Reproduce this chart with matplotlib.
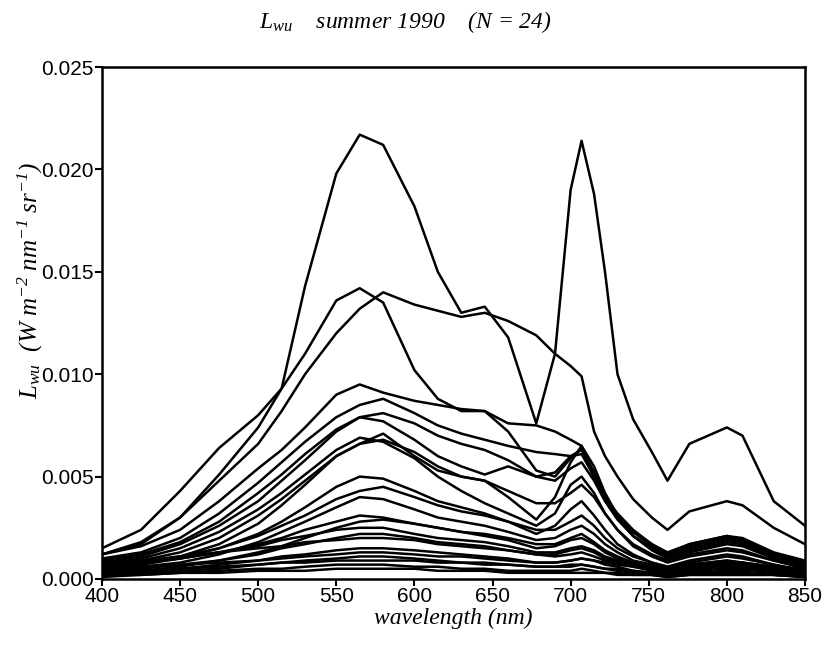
import matplotlib
matplotlib.use('Agg')
import matplotlib.pyplot as plt

plt.rcParams['mathtext.fontset'] = 'custom'
plt.rcParams['mathtext.it'] = 'Liberation Serif:italic'
plt.rcParams['mathtext.rm'] = 'Liberation Serif:italic'

# wavelength grid (nm) shared by all spectra
wl = [400, 425, 450, 475, 500, 515, 530, 550, 565, 580, 600, 615, 630, 645, 660,
      678, 690, 700, 707, 715, 722, 730, 740, 752, 762, 776, 800, 810, 830, 850]

# upwelling radiance, one list per station
s01 = [0.0012, 0.0018, 0.0030, 0.0051, 0.0074, 0.0093, 0.0143, 0.0198, 0.0217, 0.0212, 0.0182, 0.0150, 0.0130, 0.0133, 0.0118,
       0.0076, 0.0110, 0.0190, 0.0214, 0.0188, 0.0150, 0.0100, 0.0078, 0.0062, 0.0048, 0.0066, 0.0074, 0.0070, 0.0038, 0.0026]
s02 = [0.0015, 0.0024, 0.0043, 0.0064, 0.0080, 0.0093, 0.0110, 0.0136, 0.0142, 0.0135, 0.0102, 0.0088, 0.0082, 0.0082, 0.0072,
       0.0053, 0.0050, 0.0059, 0.0064, 0.0052, 0.0040, 0.0031, 0.0023, 0.0017, 0.0013, 0.0017, 0.0021, 0.0020, 0.0013, 0.0009]
s03 = [0.0012, 0.0017, 0.0030, 0.0048, 0.0066, 0.0082, 0.0100, 0.0120, 0.0132, 0.0140, 0.0134, 0.0131, 0.0128, 0.0130, 0.0126,
       0.0119, 0.0110, 0.0104, 0.0099, 0.0072, 0.0060, 0.0050, 0.0039, 0.0030, 0.0024, 0.0033, 0.0038, 0.0036, 0.0025, 0.0017]
s04 = [0.0012, 0.0016, 0.0024, 0.0038, 0.0054, 0.0063, 0.0074, 0.0090, 0.0095, 0.0091, 0.0087, 0.0085, 0.0083, 0.0082, 0.0076,
       0.0075, 0.0072, 0.0068, 0.0065, 0.0049, 0.0040, 0.0032, 0.0024, 0.0017, 0.0012, 0.0017, 0.0021, 0.0019, 0.0012, 0.0008]
s05 = [0.0010, 0.0013, 0.0020, 0.0032, 0.0047, 0.0057, 0.0067, 0.0079, 0.0085, 0.0088, 0.0081, 0.0075, 0.0071, 0.0068, 0.0065,
       0.0062, 0.0061, 0.0060, 0.0061, 0.0050, 0.0040, 0.0031, 0.0023, 0.0016, 0.0012, 0.0016, 0.0020, 0.0019, 0.0012, 0.0008]
s06 = [0.0009, 0.0012, 0.0018, 0.0028, 0.0042, 0.0051, 0.0061, 0.0073, 0.0079, 0.0081, 0.0076, 0.0070, 0.0066, 0.0063, 0.0058,
       0.0050, 0.0048, 0.0054, 0.0057, 0.0048, 0.0038, 0.0029, 0.0021, 0.0015, 0.0011, 0.0015, 0.0019, 0.0018, 0.0011, 0.0007]
s07 = [0.0008, 0.0011, 0.0017, 0.0026, 0.0038, 0.0048, 0.0058, 0.0072, 0.0079, 0.0077, 0.0068, 0.0060, 0.0055, 0.0051, 0.0055,
       0.0050, 0.0052, 0.0060, 0.0063, 0.0052, 0.0040, 0.0030, 0.0021, 0.0015, 0.0011, 0.0014, 0.0018, 0.0017, 0.0011, 0.0007]
s08 = [0.0005, 0.0007, 0.0011, 0.0017, 0.0027, 0.0036, 0.0046, 0.0060, 0.0066, 0.0071, 0.0060, 0.0053, 0.0050, 0.0048, 0.0040,
       0.0029, 0.0040, 0.0057, 0.0065, 0.0055, 0.0042, 0.0031, 0.0021, 0.0014, 0.0010, 0.0013, 0.0017, 0.0016, 0.0010, 0.0006]
s09 = [0.0007, 0.0010, 0.0015, 0.0023, 0.0034, 0.0042, 0.0051, 0.0063, 0.0069, 0.0067, 0.0059, 0.0050, 0.0043, 0.0037, 0.0032,
       0.0026, 0.0032, 0.0046, 0.0050, 0.0042, 0.0032, 0.0024, 0.0016, 0.0011, 0.0008, 0.0011, 0.0014, 0.0013, 0.0009, 0.0005]
s10 = [0.0006, 0.0009, 0.0013, 0.0020, 0.0031, 0.0039, 0.0048, 0.0060, 0.0066, 0.0068, 0.0062, 0.0055, 0.0050, 0.0048, 0.0043,
       0.0037, 0.0037, 0.0042, 0.0046, 0.0040, 0.0032, 0.0024, 0.0017, 0.0012, 0.0009, 0.0012, 0.0015, 0.0014, 0.0009, 0.0006]
s11 = [0.0005, 0.0007, 0.0010, 0.0015, 0.0022, 0.0028, 0.0035, 0.0045, 0.0050, 0.0049, 0.0043, 0.0038, 0.0035, 0.0032, 0.0028,
       0.0022, 0.0026, 0.0034, 0.0038, 0.0031, 0.0024, 0.0017, 0.0012, 0.0008, 0.0006, 0.0008, 0.0011, 0.0010, 0.0007, 0.0004]
s12 = [0.0006, 0.0008, 0.0011, 0.0015, 0.0021, 0.0026, 0.0031, 0.0039, 0.0043, 0.0045, 0.0040, 0.0036, 0.0033, 0.0031, 0.0028,
       0.0024, 0.0024, 0.0028, 0.0031, 0.0026, 0.0020, 0.0015, 0.0011, 0.0008, 0.0006, 0.0009, 0.0012, 0.0011, 0.0007, 0.0004]
s13 = [0.0004, 0.0006, 0.0008, 0.0012, 0.0018, 0.0023, 0.0028, 0.0035, 0.0040, 0.0039, 0.0034, 0.0030, 0.0028, 0.0026, 0.0023,
       0.0019, 0.0020, 0.0024, 0.0026, 0.0022, 0.0017, 0.0013, 0.0009, 0.0007, 0.0005, 0.0007, 0.0009, 0.0008, 0.0006, 0.0003]
s14 = [0.0006, 0.0008, 0.0010, 0.0013, 0.0017, 0.0020, 0.0024, 0.0028, 0.0031, 0.0030, 0.0027, 0.0025, 0.0023, 0.0022, 0.0020,
       0.0017, 0.0017, 0.0020, 0.0022, 0.0018, 0.0014, 0.0011, 0.0008, 0.0006, 0.0005, 0.0007, 0.0008, 0.0008, 0.0005, 0.0003]
s15 = [0.0003, 0.0004, 0.0006, 0.0009, 0.0013, 0.0016, 0.0020, 0.0025, 0.0028, 0.0029, 0.0027, 0.0025, 0.0023, 0.0021, 0.0019,
       0.0015, 0.0016, 0.0019, 0.0020, 0.0017, 0.0013, 0.0010, 0.0007, 0.0005, 0.0004, 0.0006, 0.0007, 0.0007, 0.0004, 0.0002]
s16 = [0.0007, 0.0008, 0.0010, 0.0013, 0.0016, 0.0019, 0.0021, 0.0024, 0.0025, 0.0025, 0.0022, 0.0020, 0.0019, 0.0018, 0.0016,
       0.0013, 0.0013, 0.0015, 0.0016, 0.0014, 0.0011, 0.0009, 0.0007, 0.0005, 0.0004, 0.0006, 0.0008, 0.0007, 0.0005, 0.0003]
s17 = [0.0004, 0.0005, 0.0007, 0.0009, 0.0012, 0.0015, 0.0017, 0.0020, 0.0022, 0.0022, 0.0020, 0.0018, 0.0017, 0.0016, 0.0014,
       0.0012, 0.0012, 0.0014, 0.0015, 0.0013, 0.0010, 0.0008, 0.0006, 0.0004, 0.0003, 0.0005, 0.0006, 0.0006, 0.0004, 0.0002]
s18 = [0.0008, 0.0009, 0.0011, 0.0013, 0.0015, 0.0016, 0.0018, 0.0019, 0.0020, 0.0020, 0.0019, 0.0017, 0.0016, 0.0015, 0.0014,
       0.0012, 0.0011, 0.0012, 0.0013, 0.0011, 0.0009, 0.0008, 0.0007, 0.0006, 0.0005, 0.0007, 0.0009, 0.0008, 0.0006, 0.0005]
s19 = [0.0003, 0.0004, 0.0005, 0.0007, 0.0009, 0.0011, 0.0012, 0.0014, 0.0015, 0.0015, 0.0014, 0.0013, 0.0012, 0.0011, 0.0010,
       0.0008, 0.0008, 0.0009, 0.0010, 0.0009, 0.0007, 0.0006, 0.0004, 0.0003, 0.0002, 0.0003, 0.0004, 0.0004, 0.0003, 0.0002]
s20 = [0.0005, 0.0006, 0.0007, 0.0008, 0.0009, 0.0010, 0.0011, 0.0012, 0.0013, 0.0013, 0.0012, 0.0011, 0.0011, 0.0010, 0.0009,
       0.0008, 0.0008, 0.0009, 0.0010, 0.0009, 0.0008, 0.0007, 0.0006, 0.0005, 0.0004, 0.0005, 0.0006, 0.0006, 0.0005, 0.0004]
s21 = [0.0002, 0.0003, 0.0004, 0.0005, 0.0007, 0.0008, 0.0009, 0.0010, 0.0011, 0.0011, 0.0010, 0.0009, 0.0008, 0.0008, 0.0007,
       0.0006, 0.0006, 0.0007, 0.0007, 0.0006, 0.0005, 0.0004, 0.0003, 0.0002, 0.0002, 0.0003, 0.0003, 0.0003, 0.0002, 0.0001]
s22 = [0.0004, 0.0004, 0.0005, 0.0006, 0.0007, 0.0008, 0.0008, 0.0009, 0.0009, 0.0009, 0.0009, 0.0008, 0.0008, 0.0007, 0.0007,
       0.0006, 0.0006, 0.0006, 0.0007, 0.0006, 0.0005, 0.0005, 0.0004, 0.0003, 0.0003, 0.0004, 0.0005, 0.0005, 0.0004, 0.0003]
s23 = [0.0001, 0.0002, 0.0003, 0.0004, 0.0005, 0.0005, 0.0006, 0.0007, 0.0007, 0.0007, 0.0006, 0.0006, 0.0005, 0.0005, 0.0004,
       0.0004, 0.0004, 0.0004, 0.0005, 0.0004, 0.0003, 0.0003, 0.0002, 0.0002, 0.0001, 0.0002, 0.0002, 0.0002, 0.0002, 0.0001]
s24 = [0.0002, 0.0002, 0.0003, 0.0003, 0.0004, 0.0004, 0.0004, 0.0005, 0.0005, 0.0005, 0.0005, 0.0004, 0.0004, 0.0004, 0.0003,
       0.0003, 0.0003, 0.0003, 0.0003, 0.0003, 0.0003, 0.0002, 0.0002, 0.0002, 0.0001, 0.0002, 0.0002, 0.0002, 0.0002, 0.0001]

spectra = [s01, s02, s03, s04, s05, s06, s07, s08, s09, s10, s11, s12,
           s13, s14, s15, s16, s17, s18, s19, s20, s21, s22, s23, s24]

xticks = [400, 450, 500, 550, 600, 650, 700, 750, 800, 850]
yticks = [0.000, 0.005, 0.010, 0.015, 0.020, 0.025]

fig = plt.figure(figsize=(8.29, 6.48), dpi=100)
ax = fig.add_axes([0.123, 0.1065, 0.848, 0.79])

for s in spectra:
    ax.plot(wl, s, color='black', lw=1.8, solid_joinstyle='round')

ax.set_xlim(400, 850)
ax.set_ylim(0, 0.025)
ax.set_xticks(xticks)
ax.set_yticks(yticks)
ax.set_yticklabels(['%.3f' % v for v in yticks])
ax.tick_params(direction='out', length=5, width=1.5, pad=1, top=False, right=False)
for lab in ax.get_xticklabels() + ax.get_yticklabels():
    lab.set_fontfamily('Liberation Sans')
    lab.set_fontsize(15)
for sp in ax.spines.values():
    sp.set_linewidth(1.8)

ax.set_xlabel('wavelength (nm)', fontfamily='Liberation Serif', style='italic', fontsize=17, labelpad=1)

# y label sits a little above the axes centre
fig.text(0.037, 0.568, r'$L_{wu}$  (W m$^{-2}$ nm$^{-1}$ sr$^{-1}$)', rotation=90,
         ha='center', va='center', fontfamily='Liberation Serif', style='italic', fontsize=18)

fig.text(0.489, 0.966, r'$L_{wu}$    summer 1990    (N = 24)', ha='center', va='center',
         fontfamily='Liberation Serif', style='italic', fontsize=17)

fig.savefig('out.png', dpi=100)
